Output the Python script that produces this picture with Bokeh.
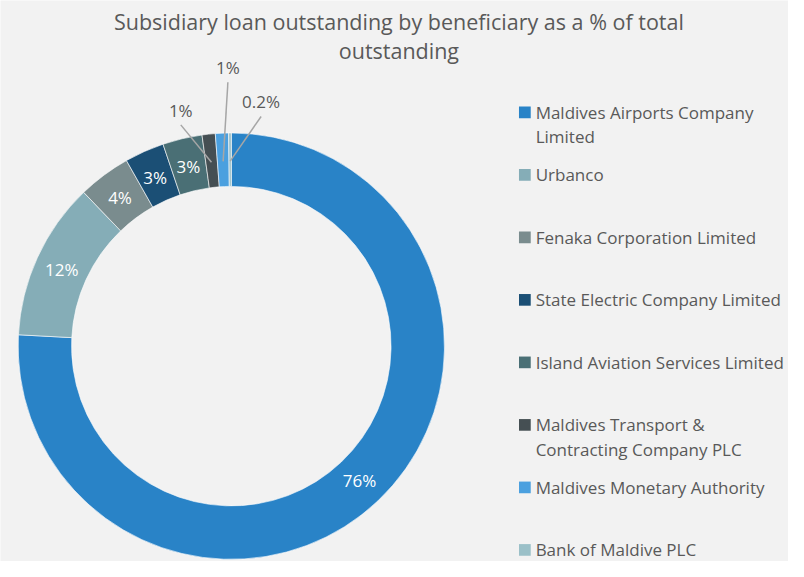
import numpy as np
from bokeh.plotting import figure
from bokeh.models import Range1d, ColumnDataSource
from bokeh.core.properties import value
from bokeh.embed import file_html
from bokeh.resources import INLINE

# ---------------- data ----------------
title_lines = ["Subsidiary loan outstanding by beneficiary as a % of total", "outstanding"]
beneficiaries = [
    "Maldives Airports Company\nLimited",
    "Urbanco",
    "Fenaka Corporation Limited",
    "State Electric Company Limited",
    "Island Aviation Services Limited",
    "Maldives Transport &\nContracting Company PLC",
    "Maldives Monetary Authority",
    "Bank of Maldive PLC",
]
shares = [76, 12, 4, 3, 3, 1, 1, 0.2]
colors = ["#2983C7", "#85ADB7", "#7A8C8E", "#1B4F75", "#4A6F75", "#454F53", "#4BA0DF", "#9BC0C8"]

# ---------------- layout ----------------
W, H = 788, 561            # pixel size of the figure
DW, DH = 804, 577          # design coordinate space
FONT = "Open Sans"
TXT = "#595959"
BG = "#F2F2F2"
cx, cy = 235.5, DH - 355.5
r_out, r_in = 217.5, 163.0
r_mid = (r_out + r_in) / 2
# callout label placement for slices too small to hold a label (angle cw from top in deg, radius)
callout_pos = {5: (348.0, 248.0), 6: (359.3, 286.5), 7: (6.9, 253.0)}

p = figure(width=W, height=H, output_backend="svg", toolbar_location=None,
           x_range=Range1d(0, DW), y_range=Range1d(0, DH),
           min_border=0, background_fill_color=BG, border_fill_color=BG)
p.axis.visible = False
p.grid.visible = False
p.outline_line_color = None

vals = np.array(shares, dtype=float)
frac = vals / vals.sum()
cum = np.concatenate([[0], np.cumsum(frac)])
th0 = cum[:-1] * 2 * np.pi
th1 = cum[1:] * 2 * np.pi
thm = (th0 + th1) / 2

src = ColumnDataSource(dict(start=np.pi / 2 - th0, end=np.pi / 2 - th1, color=colors))
p.annular_wedge(x=cx, y=cy, inner_radius=r_in, outer_radius=r_out,
                start_angle="start", end_angle="end", direction="clock",
                fill_color="color", line_color="white", line_width=0.6, source=src)

labels = [f"{v:g}%" for v in shares]
inside = [i for i in range(len(shares)) if i not in callout_pos]
p.text(x=[cx + r_mid * np.sin(thm[i]) for i in inside],
       y=[cy + r_mid * np.cos(thm[i]) for i in inside],
       text=[labels[i] for i in inside], text_color="white",
       text_font=value(FONT), text_font_size="17px",
       text_align="center", text_baseline="middle")

lx, ly, lt, x0s, y0s, x1s, y1s = [], [], [], [], [], [], []
for i, (ang, rr) in callout_pos.items():
    a = np.deg2rad(ang)
    tx, ty = cx + rr * np.sin(a), cy + rr * np.cos(a)
    lx.append(tx); ly.append(ty); lt.append(labels[i])
    x0s.append(tx); y0s.append(ty - 15)
    x1s.append(cx + r_mid * np.sin(thm[i])); y1s.append(cy + r_mid * np.cos(thm[i]))
p.segment(x0=x0s, y0=y0s, x1=x1s, y1=y1s, line_color="#A6A6A6", line_width=1.5)
p.text(x=lx, y=ly, text=lt, text_color=TXT, text_font=value(FONT),
       text_font_size="17px", text_align="center", text_baseline="middle")

# title
p.text(x=[406.5] * len(title_lines), y=[DH - 22 - 29 * k for k in range(len(title_lines))],
       text=title_lines, text_color=TXT, text_font=value(FONT), text_font_size="21.5px",
       text_align="center", text_baseline="middle")

# legend
leg_y0, leg_step, line_h = DH - 115, 64.3, 25
sq_y = [leg_y0 - leg_step * i for i in range(len(beneficiaries))]
p.rect(x=[535] * len(beneficiaries), y=sq_y, width=12, height=12,
       fill_color=colors, line_color=None)
tx, ty, tt = [], [], []
for i, name in enumerate(beneficiaries):
    for k, line in enumerate(name.split("\n")):
        tx.append(546); ty.append(sq_y[i] - k * line_h); tt.append(line)
p.text(x=tx, y=ty, text=tt, text_color=TXT, text_font=value(FONT),
       text_font_size="17px", text_align="left", text_baseline="middle")

open("out.html", "w").write(file_html(p, INLINE))
